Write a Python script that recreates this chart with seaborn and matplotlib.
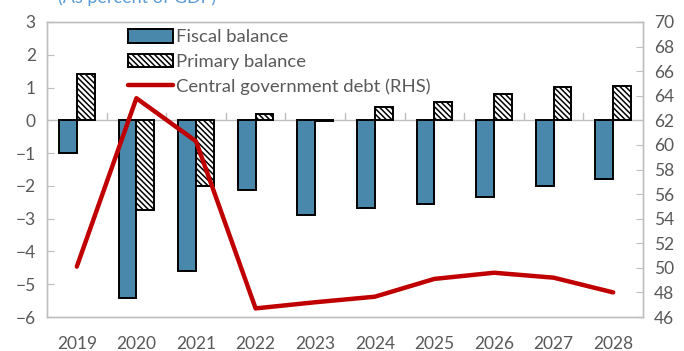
import numpy as np
import pandas as pd
import matplotlib
matplotlib.use("Agg")
import matplotlib.pyplot as plt
import seaborn as sns
from matplotlib.patches import Patch
from matplotlib.lines import Line2D

years = ["2019", "2020", "2021", "2022", "2023", "2024", "2025", "2026", "2027", "2028"]
fiscal_balance = [-1.0, -5.42, -4.6, -2.13, -2.88, -2.67, -2.55, -2.34, -2.0, -1.8]
primary_balance = [1.42, -2.74, -2.0, 0.2, -0.03, 0.41, 0.56, 0.81, 1.02, 1.05]
debt_rhs = [50.1, 63.8, 60.3, 46.7, 47.2, 47.65, 49.1, 49.6, 49.2, 48.0]

series_names = ["Fiscal balance", "Primary balance"]
debt_name = "Central government debt (RHS)"

sns.set_style("white")
plt.rcParams["font.family"] = ["Lato", "DejaVu Sans"]
plt.rcParams["hatch.linewidth"] = 1.1

grey_text = "#595959"
spine_grey = "#BFBFBF"
bar_blue = "#4A88AB"
debt_red = "#C00000"
hatch = "\\" * 6

bars = pd.DataFrame({
    "year": years * 2,
    "value": fiscal_balance + primary_balance,
    "series": [series_names[0]] * len(years) + [series_names[1]] * len(years),
})

fig = plt.figure(figsize=(6.84, 3.51), dpi=100)
ax = fig.add_axes([47 / 684, 1 - 317 / 351, (643 - 47) / 684, (317 - 22) / 351])

sns.barplot(data=bars, x="year", y="value", hue="series",
            palette=[bar_blue, "white"], width=0.6, gap=0,
            edgecolor="black", linewidth=1.4, legend=False, ax=ax,
            saturation=1)

for patch in ax.containers[1]:
    patch.set_hatch(hatch)
    patch.set_facecolor("white")

ax.set_ylim(-6, 3)
ax.set_yticks(range(-6, 4))
ax.set_xlim(-0.5, len(years) - 0.5)
ax.set_xlabel("")
ax.set_ylabel("")
ax.axhline(0, color=spine_grey, lw=1.0, zorder=0.5)
# category separators rising from the zero line
for b in np.arange(0.5, len(years) - 1, 1.0):
    ax.plot([b, b], [0, 0.22], color=spine_grey, lw=1.0, zorder=0.5)

ax.tick_params(axis="y", direction="in", length=5, color=spine_grey,
               labelcolor=grey_text, labelsize=12.5, pad=8)
ax.tick_params(axis="x", length=0, labelcolor=grey_text, labelsize=12.5, pad=14)
for s in ax.spines.values():
    s.set_color(spine_grey)
    s.set_linewidth(1.0)

ax2 = ax.twinx()
sns.lineplot(x=np.arange(len(years)), y=debt_rhs, color=debt_red, lw=3.2,
             ax=ax2, legend=False)
ax2.set_ylim(46, 70)
ax2.set_yticks(range(46, 71, 2))
ax2.tick_params(axis="y", direction="in", length=5, color=spine_grey,
                labelcolor=grey_text, labelsize=12.5, pad=8)
for s in ax2.spines.values():
    s.set_color(spine_grey)
    s.set_linewidth(1.0)

handles = [
    Patch(facecolor=bar_blue, edgecolor="black", linewidth=1.4),
    Patch(facecolor="white", edgecolor="black", linewidth=1.4, hatch=hatch),
    Line2D([], [], color=debt_red, lw=3.2),
]
leg = ax.legend(handles, series_names + [debt_name], loc="upper left",
                bbox_to_anchor=(0.115, 1.02), frameon=False, fontsize=13.3,
                handlelength=2.4, handleheight=0.75, handletextpad=0.2,
                labelspacing=0.45, borderpad=0.2)
for t in leg.get_texts():
    t.set_color(grey_text)

fig.text(58 / 684, 1 - 3 / 351, "(As percent of GDP)", color="#5B9BD5",
         fontsize=13, ha="left", va="baseline")

fig.savefig("out.png", dpi=100)
